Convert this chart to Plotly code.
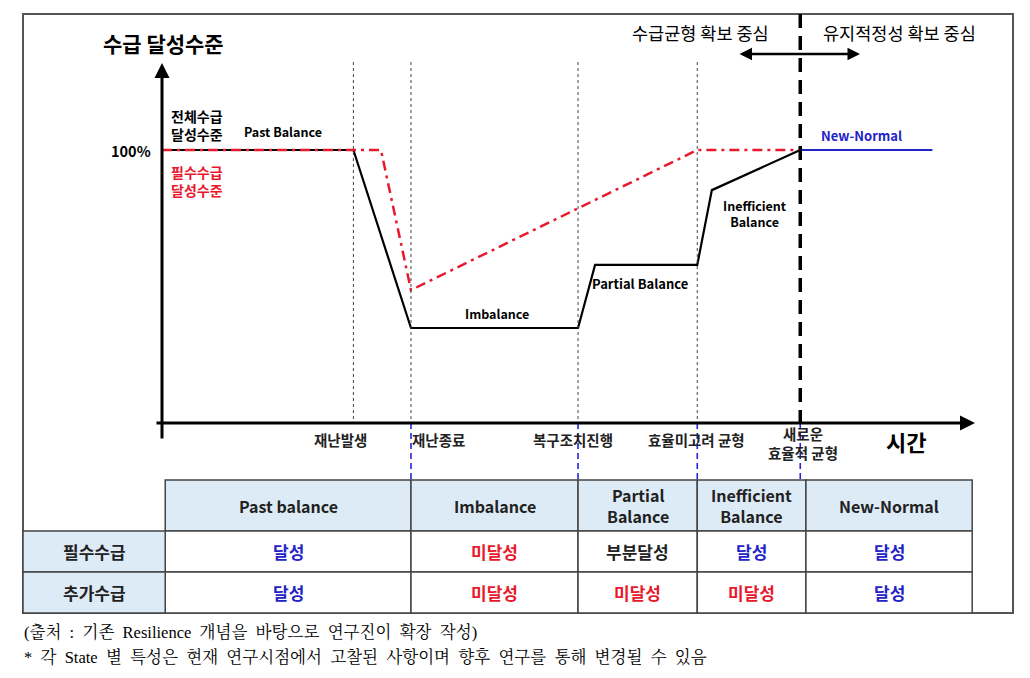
import plotly.graph_objects as go

# ---------------- data ----------------
event_labels = ["재난발생", "재난종료", "복구조치진행", "효율미고려 균형", "새로운<br>효율적 균형"]
event_times = [23.6, 30.7, 51.3, 66.0, 78.7]

total_t = [0, 23.6, 30.7, 51.3, 53.4, 66.0, 67.8, 78.7]
total_level = [100, 100, 34.8, 34.8, 57.9, 57.9, 85.3, 100]
essential_t = [0, 27.0, 30.7, 66.0, 78.7]
essential_level = [100, 100, 48.7, 100, 100]
newnormal_t = [78.7, 95.0]
newnormal_level = [100, 100]

state_names = ["Past balance", "Imbalance", "Partial<br>Balance", "Inefficient<br>Balance", "New-Normal"]
state_bounds = [0.4, 30.7, 51.3, 66.0, 79.4, 99.9]
row_names = ["필수수급", "추가수급"]
essential_status = ["달성", "미달성", "부분달성", "달성", "달성"]
additional_status = ["달성", "미달성", "미달성", "미달성", "달성"]

# ---------------- geometry ----------------
W, H = 1030, 678
X0_PX, X100_PX = 162, 973
Y0_PX, Y100_PX = 423, 150
sx = (X100_PX - X0_PX) / 100
sy = (Y0_PX - Y100_PX) / 100


def tx(px):
    return (px - X0_PX) / sx


def ly(py):
    return (Y0_PX - py) / sy


FONT = "Noto Sans CJK KR"
BLUE = "#2323C8"
RED = "#E8192C"

fig = go.Figure()

fig.add_trace(go.Scatter(x=total_t, y=total_level, mode="lines",
                         line=dict(color="black", width=2.2), hoverinfo="skip"))
fig.add_trace(go.Scatter(x=essential_t, y=essential_level, mode="lines",
                         line=dict(color=RED, width=2.5, dash="10px,5px,3px,5px"), hoverinfo="skip"))
fig.add_trace(go.Scatter(x=newnormal_t, y=newnormal_level, mode="lines",
                         line=dict(color=BLUE, width=2), hoverinfo="skip"))

shapes = []
ann = []

# outer frame
shapes.append(dict(type="rect", xref="x", yref="y", x0=tx(23), x1=tx(1013), y0=ly(14), y1=ly(613),
                   line=dict(color="#555555", width=2), layer="below"))

# dotted event lines
for t in event_times[:4]:
    shapes.append(dict(type="line", xref="x", yref="y", x0=t, x1=t, y0=ly(62), y1=0,
                       line=dict(color="#444444", width=1, dash="3px,3px")))
# thick dashed divider
shapes.append(dict(type="line", xref="x", yref="y", x0=event_times[4], x1=event_times[4],
                   y0=ly(14), y1=0, line=dict(color="black", width=3.5, dash="14px,8px")))
# blue dashed connectors
for t in event_times[1:]:
    shapes.append(dict(type="line", xref="x", yref="y", x0=t, x1=t, y0=0, y1=ly(480),
                       line=dict(color="#2525E0", width=1.6, dash="6px,4px")))

# axes with arrows
ann.append(dict(x=tx(162), y=ly(63), ax=tx(162), ay=ly(440), xref="x", yref="y", axref="x", ayref="y",
                text="", showarrow=True, arrowhead=2, arrowsize=1, arrowwidth=3, arrowcolor="black"))
ann.append(dict(x=tx(975), y=0, ax=tx(155), ay=0, xref="x", yref="y", axref="x", ayref="y",
                text="", showarrow=True, arrowhead=2, arrowsize=1, arrowwidth=3, arrowcolor="black"))
# double arrow
ann.append(dict(x=tx(860), y=ly(54), ax=tx(738), ay=ly(54), xref="x", yref="y", axref="x", ayref="y",
                text="", showarrow=True, arrowhead=2, arrowside="end+start", arrowsize=1,
                arrowwidth=2.5, arrowcolor="black"))


def label(x, y, text, size=13, color="black", bold=True, xanchor="center", family=FONT):
    t = f"<b>{text}</b>" if bold else text
    ann.append(dict(x=x, y=y, xref="x", yref="y", text=t, showarrow=False, xanchor=xanchor,
                    yanchor="middle", font=dict(family=family, size=size, color=color)))


label(tx(163), ly(43), "수급 달성수준", size=21)
label(tx(197), ly(125), "전체수급<br>달성수준", size=14)
label(tx(283), ly(131), "Past Balance", size=12.5)
label(tx(153), ly(150), "100%", size=14.5, xanchor="right")
label(tx(197), ly(181), "필수수급<br>달성수준", size=14, color=RED)
label(tx(861), ly(135), "New-Normal", size=13, color=BLUE)
label(tx(755), ly(213), "Inefficient<br>Balance", size=12.5)
label(tx(640), ly(283), "Partial Balance", size=13)
label(tx(497), ly(313), "Imbalance", size=12.5)
label(tx(700), ly(32), "수급균형 확보 중심", size=17.5, bold=False)
label(tx(899), ly(32), "유지적정성 확보 중심", size=17.5, bold=False)
label(tx(906), ly(441), "시간", size=22)

xlab_px = [340, 438, 573, 696, 803]
for i, (lab, px) in enumerate(zip(event_labels, xlab_px)):
    y = ly(443) if i == 4 else ly(439)
    label(tx(px), y, lab, size=14.5, color="#222222")

# ---------------- table ----------------
TOP, HB, R1, R2 = ly(480), ly(531), ly(572), ly(613)
LEFT = tx(23)
HDR_FILL = "#DDEBF7"
LINE = dict(color="#444444", width=1.5)

for i, name in enumerate(state_names):
    x0, x1 = state_bounds[i], state_bounds[i + 1]
    shapes.append(dict(type="rect", xref="x", yref="y", x0=x0, x1=x1, y0=HB, y1=TOP,
                       fillcolor=HDR_FILL, line=LINE, layer="below"))
    label((x0 + x1) / 2, (TOP + HB) / 2, name, size=16, color="#222222")
    for r, (status_list, y0, y1) in enumerate([(essential_status, R1, HB), (additional_status, R2, R1)]):
        shapes.append(dict(type="rect", xref="x", yref="y", x0=x0, x1=x1, y0=y0, y1=y1,
                           fillcolor="white", line=LINE, layer="below"))
        s = status_list[i]
        col = BLUE if s == "달성" else (RED if s == "미달성" else "#222222")
        label((x0 + x1) / 2, (y0 + y1) / 2, s, size=17, color=col)

for r, (name, y0, y1) in enumerate([(row_names[0], R1, HB), (row_names[1], R2, R1)]):
    shapes.append(dict(type="rect", xref="x", yref="y", x0=LEFT, x1=state_bounds[0], y0=y0, y1=y1,
                       fillcolor=HDR_FILL, line=LINE, layer="below"))
    label((LEFT + state_bounds[0]) / 2, (y0 + y1) / 2, name, size=17, color="#222222")

# footnotes
SERIF = "Liberation Serif, Noto Serif CJK KR, serif"
foot1 = "(출처 : 기존 Resilience 개념을 바탕으로 연구진이 확장 작성)"
foot2 = "* 각 State 별 특성은 현재 연구시점에서 고찰된 사항이며 향후 연구를 통해 변경될 수 있음"
SP = " &nbsp;"
label(tx(22), ly(632), foot1.replace(" ", SP), size=16.5, bold=False, xanchor="left", family=SERIF)
label(tx(22), ly(657), foot2.replace(" ", SP), size=16.5, bold=False, xanchor="left", family=SERIF)

fig.update_layout(
    width=W, height=H, margin=dict(l=0, r=0, t=0, b=0),
    paper_bgcolor="white", plot_bgcolor="white", showlegend=False,
    xaxis=dict(range=[-X0_PX / sx, (W - X0_PX) / sx], domain=[0, 1], visible=False, fixedrange=True),
    yaxis=dict(range=[-(H - Y0_PX) / sy, Y0_PX / sy], domain=[0, 1], visible=False, fixedrange=True),
    shapes=shapes, annotations=ann,
)

fig.write_html("out.html")
